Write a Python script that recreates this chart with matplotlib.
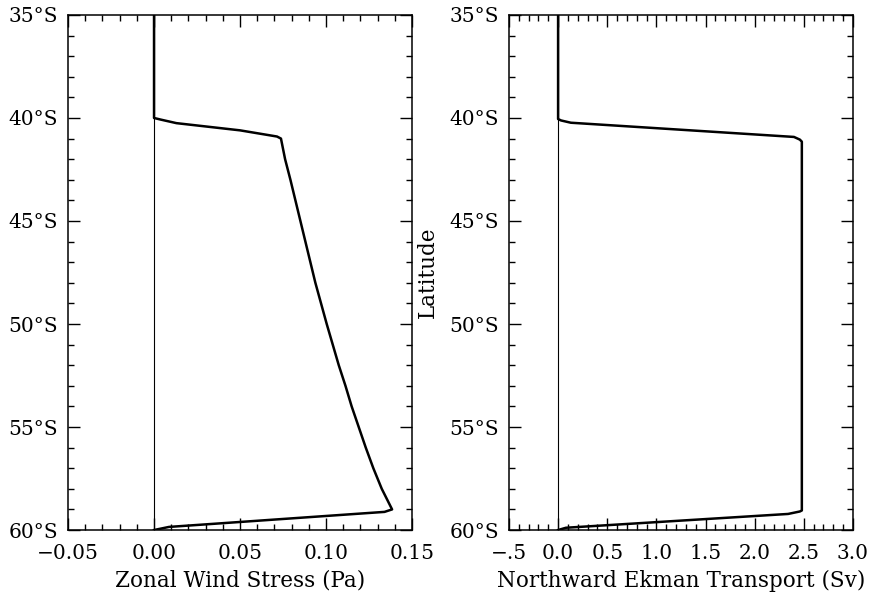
import matplotlib
matplotlib.use('Agg')

import matplotlib.pyplot as plt
from matplotlib.ticker import MultipleLocator, FuncFormatter

plt.rcParams['font.family'] = ['DejaVu Serif']
plt.rcParams['font.size'] = 14.5

# zonal wind stress (Pa), latitude in degrees south
tau_lat = [35, 40.0, 40.08, 40.25, 40.6, 40.9, 41.0, 42, 43, 44, 45, 46, 47, 48, 49,
           50, 51, 52, 53, 54, 55, 56, 57, 58, 59.0, 59.12, 59.85, 60]
tau_val = [0, 0, 0.004, 0.013, 0.05, 0.0715, 0.0738, 0.0762, 0.0793, 0.0822, 0.0851,
           0.088, 0.0909, 0.0938, 0.0971, 0.1004, 0.1039, 0.1074, 0.1113, 0.1149,
           0.119, 0.1231, 0.1275, 0.1324, 0.1384, 0.134, 0.0087, 0]

# northward Ekman transport (Sv)
ek_lat = [35, 40.05, 40.12, 40.23, 40.92, 41.05, 41.15, 59.05, 59.1, 59.22, 59.89, 60]
ek_val = [0, 0, 0.03, 0.13, 2.40, 2.46, 2.48, 2.48, 2.46, 2.34, 0.08, 0]


def lat_label(v, pos):
    return f"{-v:g}°S"


def sv_label(v, pos):
    s = f"{v:.1f}"
    if s.startswith('-0'):
        s = '\u2212' + s[2:]
    return s


def style_axes(ax, xmajor, xminor):
    ax.set_ylim(-60, -35)
    ax.yaxis.set_major_locator(MultipleLocator(5))
    ax.yaxis.set_minor_locator(MultipleLocator(1))
    ax.yaxis.set_major_formatter(FuncFormatter(lat_label))
    ax.xaxis.set_major_locator(MultipleLocator(xmajor))
    ax.xaxis.set_minor_locator(MultipleLocator(xminor))
    ax.tick_params(which='both', direction='in', top=True, right=True, width=1.0)
    ax.tick_params(which='major', length=8.5)
    ax.tick_params(which='minor', length=4.5)
    ax.tick_params(axis='x', which='major', pad=10)
    ax.tick_params(axis='y', which='major', pad=7)
    for sp in ax.spines.values():
        sp.set_linewidth(1.1)


fig = plt.figure(figsize=(8.7, 5.92), dpi=100)
ax1 = fig.add_axes([0.0782, 0.1047, 0.3954, 0.870])
ax2 = fig.add_axes([0.585, 0.1047, 0.3954, 0.870])

ax1.axvline(0, color='black', lw=0.8)
ax1.plot(tau_val, [-v for v in tau_lat], color='black', lw=1.8)
ax1.set_xlim(-0.05, 0.15)
style_axes(ax1, 0.05, 0.01)
ax1.xaxis.set_major_formatter(FuncFormatter(lambda v, p: f"{v:.2f}".replace('-', '\u2212')))
ax1.set_xlabel('Zonal Wind Stress (Pa)', fontsize=15.5, labelpad=5)

ax2.axvline(0, color='black', lw=0.8)
ax2.plot(ek_val, [-v for v in ek_lat], color='black', lw=1.8)
ax2.set_xlim(-0.5, 3.0)
style_axes(ax2, 0.5, 0.1)
ax2.xaxis.set_major_formatter(FuncFormatter(sv_label))
ax2.set_xlabel('Northward Ekman Transport (Sv)', fontsize=15.5, labelpad=5)
ax2.set_ylabel('Latitude', fontsize=15.5, labelpad=8)

fig.savefig('out.png', dpi=100)
